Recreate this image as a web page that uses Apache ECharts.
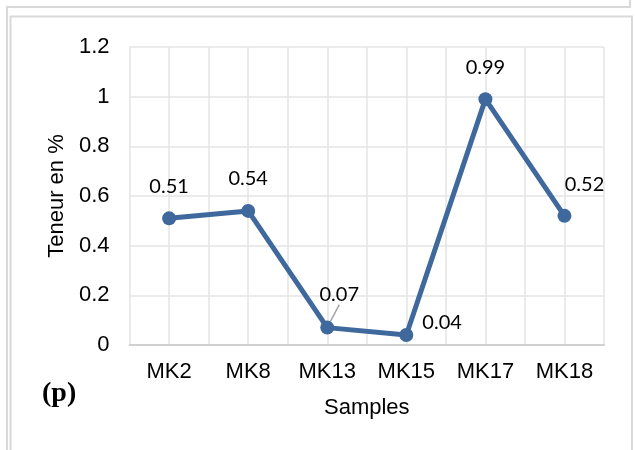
<!DOCTYPE html>
<html>
<head>
<meta charset="utf-8">
<script src="https://cdn.jsdelivr.net/npm/echarts@6/dist/echarts.min.js"></script>
<style>
  html, body { margin: 0; padding: 0; background: #fff; }
  #chart { width: 635px; height: 450px; }
</style>
</head>
<body>
<div id="chart"></div>
<script>
// Sample names and measured content (%)
const samples = ['MK2', 'MK8', 'MK13', 'MK15', 'MK17', 'MK18'];
const teneur = [0.51, 0.54, 0.07, 0.04, 0.99, 0.52];
const yTicks = [0, 0.2, 0.4, 0.6, 0.8, 1, 1.2];

const gridColor = '#e4e4e4';
const frameColor = '#d9d9d9';
const lineColor = '#3f689c';
const axisFont = 'Liberation Sans';

const chart = echarts.init(document.getElementById('chart'), null, { renderer: 'canvas' });

// Individual label tweaks: MK13 label pulled aside with a leader line,
// MK15 label to the right, MK18 label nudged right.
const labelNudge = { 2: { dx: 12, dy: -1 }, 3: { dx: 0, dy: -13 }, 5: { dx: 20, dy: 1 } };

const seriesData = teneur.map((v, i) => {
  const item = { value: v, labelLine: { show: false } };
  if (i === 2) {
    item.labelLine = { show: true, lineStyle: { color: '#a6a6a6', width: 1.5 } };
  }
  if (i === 3) {
    item.label = { position: 'right', distance: 9 };
  }
  return item;
});

chart.setOption({
  animation: false,
  backgroundColor: '#ffffff',
  grid: { left: 129.6, right: 31, top: 47, bottom: 105 },
  xAxis: [
    {
      type: 'category',
      data: samples,
      boundaryGap: true,
      axisLine: { lineStyle: { color: '#d0d0d0', width: 2 } },
      axisTick: { show: false },
      axisLabel: { color: '#000', fontFamily: axisFont, fontSize: 22, margin: 16 },
      splitLine: { show: false },
      name: 'Samples',
      nameLocation: 'middle',
      nameGap: 52,
      nameTextStyle: { color: '#000', fontFamily: axisFont, fontSize: 22 }
    },
    {
      // half-category grid lines
      type: 'value',
      min: 0,
      max: samples.length * 2,
      interval: 1,
      position: 'bottom',
      axisLine: { show: false },
      axisTick: { show: false },
      axisLabel: { show: false },
      splitLine: { show: true, lineStyle: { color: gridColor, width: 1.5 } }
    }
  ],
  yAxis: {
    type: 'value',
    min: yTicks[0],
    max: yTicks[yTicks.length - 1],
    interval: 0.2,
    axisLine: { show: false },
    axisTick: { show: false },
    axisLabel: {
      color: '#000', fontFamily: axisFont, fontSize: 22, margin: 20,
      formatter: v => String(+v.toFixed(1))
    },
    splitLine: { show: true, lineStyle: { color: gridColor, width: 1.5 } },
    name: 'Teneur en %',
    nameLocation: 'middle',
    nameGap: 62,
    nameTextStyle: { color: '#000', fontFamily: axisFont, fontSize: 22 }
  },
  series: [{
    type: 'line',
    xAxisIndex: 0,
    data: seriesData,
    symbol: 'circle',
    symbolSize: 14,
    lineStyle: { color: lineColor, width: 5 },
    itemStyle: { color: lineColor },
    label: {
      show: true,
      position: 'top',
      distance: 15,
      color: '#000',
      fontFamily: 'Lato',
      fontSize: 20,
      formatter: p => p.value.toFixed(2)
    },
    labelLayout: p => labelNudge[p.dataIndex] || {},
    z: 5
  }],
  graphic: [
    // outer sheet frame
    { type: 'polyline', shape: { points: [[7, 450], [7, 7], [630, 7], [630, 0]] },
      style: { stroke: frameColor, lineWidth: 2, fill: null }, silent: true },
    { type: 'polyline', shape: { points: [[10.5, 450], [10.5, 16.5], [632, 16.5], [632, 450]] },
      style: { stroke: frameColor, lineWidth: 2, fill: null }, silent: true },
    { type: 'text', left: 42, top: 380,
      style: { text: '(p)', fill: '#000', font: 'bold 28px "Liberation Serif"' } }
  ]
});
</script>
</body>
</html>
